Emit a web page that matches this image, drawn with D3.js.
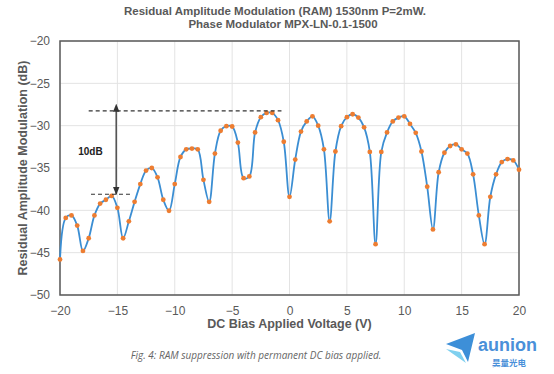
<!DOCTYPE html>
<html>
<head>
<meta charset="utf-8">
<script src="https://cdn.jsdelivr.net/npm/d3@7"></script>
<style>
  body { margin: 0; background: #fff; }
  svg { display: block; font-family: Arial, "Liberation Sans", sans-serif; }
</style>
</head>
<body>
<svg width="554" height="374"></svg>
<script>
// bias voltage (V) and measured RAM (dB)
const voltages = [
  -20, -19.5, -19, -18.5, -18, -17.5, -17, -16.5, -16, -15.5,
  -15, -14.5, -14, -13.5, -13, -12.5, -12, -11.5, -11, -10.5,
  -10, -9.5, -9, -8.5, -8, -7.5, -7, -6.5, -6, -5.5,
  -5, -4.5, -4, -3.5, -3, -2.5, -2, -1.5, -1, -0.5,
  0, 0.5, 1, 1.5, 2, 2.5, 3, 3.5, 4, 4.5,
  5, 5.5, 6, 6.5, 7, 7.5, 8, 8.5, 9, 9.5,
  10, 10.5, 11, 11.5, 12, 12.5, 13, 13.5, 14, 14.5,
  15, 15.5, 16, 16.5, 17, 17.5, 18, 18.5, 19, 19.5, 20
];
const ram = [
  -45.8, -40.9, -40.6, -41.8, -44.8, -43.3, -40.6, -39.2, -38.75, -38.3,
  -39.7, -43.3, -41.3, -39.0, -36.9, -35.3, -35.0, -36.1, -38.75, -40.05,
  -36.9, -33.7, -32.8, -32.7, -32.8, -36.4, -39.0, -33.3, -30.6, -30.06,
  -30.1, -32.0, -36.2, -36.0, -30.8, -29.0, -28.5, -28.5, -29.35, -31.9,
  -38.4, -34.0, -30.7, -29.5, -28.9, -30.0, -32.8, -41.3, -33.05, -30.06,
  -29.0, -28.65, -29.05, -30.2, -33.1, -44.0, -33.1, -30.8, -29.5, -29.05,
  -28.9, -29.8, -30.85, -33.05, -37.2, -42.25, -35.5, -33.2, -32.4, -32.2,
  -32.8, -33.3, -35.75, -40.6, -44.0, -38.4, -35.75, -34.3, -33.95, -34.1, -35.2
];
const xTicks = [-20, -15, -10, -5, 0, 5, 10, 15, 20];
const yTicks = [-50, -45, -40, -35, -30, -25, -20];

// the 10 dB span marked on the chart: top level, bottom level
const spanLevels = [-28.25, -38.1];
const spanLabel = '10dB';

const margin = { top: 41, right: 35, bottom: 79, left: 60 };
const width = 554 - margin.left - margin.right;
const height = 374 - margin.top - margin.bottom;

const svg = d3.select('svg');

const defs = svg.append('defs');
['start', 'end'].forEach(k => {
  defs.append('marker')
    .attr('id', 'arrow-' + k)
    .attr('viewBox', '0 0 10 10')
    .attr('refX', k === 'end' ? 9 : 1).attr('refY', 5)
    .attr('markerWidth', 5).attr('markerHeight', 5)
    .attr('orient', 'auto-start-reverse')
    .append('path')
    .attr('d', 'M0,1 L10,5 L0,9 Z')
    .attr('fill', '#333');
});

const chart = svg.append('g')
  .attr('transform', `translate(${margin.left}, ${margin.top})`);

const xScale = d3.scaleLinear().domain([-20, 20]).range([0, width]);
const yScale = d3.scaleLinear().domain([-50, -20]).range([height, 0]);

// ---- grid ----
chart.append('g')
  .selectAll('line.vg')
  .data(xTicks)
  .join('line')
  .attr('x1', d => xScale(d)).attr('x2', d => xScale(d))
  .attr('y1', 0).attr('y2', height)
  .attr('stroke', '#e3e3e3').attr('stroke-width', 1);

chart.append('g')
  .selectAll('line.hg')
  .data(yTicks)
  .join('line')
  .attr('x1', 0).attr('x2', width)
  .attr('y1', d => yScale(d)).attr('y2', d => yScale(d))
  .attr('stroke', '#e3e3e3').attr('stroke-width', 1);

// ---- axes (labels only, Excel style) ----
const xAxis = chart.append('g')
  .attr('transform', `translate(0, ${height})`)
  .call(d3.axisBottom(xScale).tickValues(xTicks).tickSize(0).tickPadding(11));
const yAxis = chart.append('g')
  .call(d3.axisLeft(yScale).tickValues(yTicks).tickSize(0).tickPadding(10));

[xAxis, yAxis].forEach(a => {
  a.select('.domain').remove();
  a.selectAll('text')
    .attr('fill', '#595959')
    .style('font-size', '12px')
    .style('font-family', 'Arial, "Liberation Sans", sans-serif');
});

// ---- plot border ----
chart.append('rect')
  .attr('x', 0).attr('y', 0)
  .attr('width', width).attr('height', height)
  .attr('fill', 'none')
  .attr('stroke', '#595959')
  .attr('stroke-width', 1.5);

// ---- series ----
const points = voltages.map((v, i) => ({ v: v, db: ram[i] }));

const line = d3.line()
  .x(d => xScale(d.v))
  .y(d => yScale(d.db))
  .curve(d3.curveCatmullRom.alpha(0.5));

chart.append('path')
  .datum(points)
  .attr('d', line)
  .attr('fill', 'none')
  .attr('stroke', '#3b8ed3')
  .attr('stroke-width', 1.8);

chart.append('g')
  .selectAll('circle')
  .data(points)
  .join('circle')
  .attr('cx', d => xScale(d.v))
  .attr('cy', d => yScale(d.db))
  .attr('r', 2.4)
  .attr('fill', '#ed7d31');

// ---- 10 dB annotation ----
const ann = chart.append('g');
ann.append('line')
  .attr('x1', xScale(-17.5)).attr('x2', xScale(-0.7))
  .attr('y1', yScale(spanLevels[0])).attr('y2', yScale(spanLevels[0]))
  .attr('stroke', '#333').attr('stroke-width', 1.2)
  .attr('stroke-dasharray', '4,3');
ann.append('line')
  .attr('x1', xScale(-17.3)).attr('x2', xScale(-13.9))
  .attr('y1', yScale(spanLevels[1])).attr('y2', yScale(spanLevels[1]))
  .attr('stroke', '#333').attr('stroke-width', 1.2)
  .attr('stroke-dasharray', '4,3');
ann.append('line')
  .attr('x1', xScale(-15.1)).attr('x2', xScale(-15.1))
  .attr('y1', yScale(spanLevels[0])).attr('y2', yScale(spanLevels[1]))
  .attr('stroke', '#555').attr('stroke-width', 1.6)
  .attr('marker-start', 'url(#arrow-start)')
  .attr('marker-end', 'url(#arrow-end)');
ann.append('text')
  .attr('x', xScale(-17.35))
  .attr('y', yScale(-33.1))
  .attr('dy', '0.35em')
  .attr('text-anchor', 'middle')
  .style('font-size', '10px')
  .style('font-weight', 'bold')
  .attr('fill', '#222')
  .text(spanLabel);

// ---- titles ----
svg.append('text')
  .attr('x', 275).attr('y', 15)
  .attr('text-anchor', 'middle')
  .style('font-size', '11.5px').style('font-weight', 'bold')
  .attr('fill', '#595959')
  .text('Residual Amplitude Modulation (RAM) 1530nm P=2mW.');
svg.append('text')
  .attr('x', 283).attr('y', 28)
  .attr('text-anchor', 'middle')
  .style('font-size', '11.5px').style('font-weight', 'bold')
  .attr('fill', '#595959')
  .text('Phase Modulator MPX-LN-0.1-1500');

svg.append('text')
  .attr('x', margin.left + width / 2).attr('y', 328)
  .attr('text-anchor', 'middle')
  .style('font-size', '12.5px').style('font-weight', 'bold')
  .attr('fill', '#595959')
  .text('DC Bias Applied Voltage (V)');

svg.append('text')
  .attr('transform', `translate(27, ${margin.top + height / 2}) rotate(-90)`)
  .attr('text-anchor', 'middle')
  .style('font-size', '12.5px').style('font-weight', 'bold')
  .attr('fill', '#595959')
  .text('Residual Amplitude Modulation (dB)');

// ---- caption ----
svg.append('text')
  .attr('x', 256).attr('y', 359)
  .attr('text-anchor', 'middle')
  .style('font-family', '"Open Sans", sans-serif')
  .style('font-size', '10px').style('font-style', 'italic')
  .attr('fill', '#666')
  .text('Fig. 4: RAM suppression with permanent DC bias applied.');

// ---- logo ----
const logo = svg.append('g');
logo.append('path')
  .attr('d', 'M446,344 L475,333 L468,362 L462,350 Z')
  .attr('fill', '#3d8fd8');
logo.append('path')
  .attr('d', 'M446,349 L460,352 L466,363 Z')
  .attr('fill', '#7fd0ef');
logo.append('text')
  .attr('x', 478).attr('y', 351)
  .style('font-size', '18px').style('font-weight', 'bold')
  .attr('fill', '#4a90d9')
  .text('aunion');
logo.append('text')
  .attr('x', 509).attr('y', 366)
  .attr('text-anchor', 'middle')
  .style('font-family', '"Noto Sans CJK SC", sans-serif')
  .style('font-size', '8.5px').style('font-weight', 'bold')
  .attr('fill', '#4a90d9')
  .text('昊量光电');
</script>
</body>
</html>
